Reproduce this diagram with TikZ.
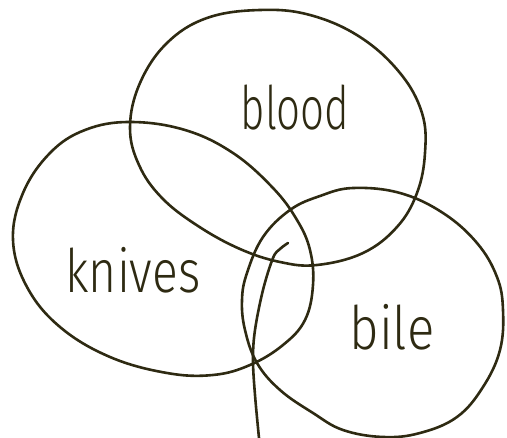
\documentclass[tikz,border=0pt]{standalone}
\usepackage{fontspec}
\setmainfont{Fira Sans Light}
\definecolor{ink}{HTML}{2E2A12}
\begin{document}
\begin{tikzpicture}[x=1pt,y=-1pt,
  stroke/.style={draw=ink,line width=2.6pt,line cap=round,line join=round},
  lbl/.style={text=ink,anchor=base,inner sep=0pt,font=\fontsize{60}{60}\selectfont}]
\useasboundingbox (0,0) rectangle (507,438);
% top set (blood)
\draw[stroke] plot[smooth cycle,tension=0.65] coordinates {
 (130,127) (140,83) (167,43) (207,18) (260,10) (310,15) (360,37) (400,73)
 (422,113) (425,153) (417,193) (397,227) (363,253) (317,265) (280,262)
 (240,249) (198,226) (162,198) (139,165)};
% left set (knives)
\draw[stroke] plot[smooth cycle,tension=0.65] coordinates {
 (130,122) (85,130) (50,153) (23,193) (13,240) (27,287) (60,327) (110,357)
 (167,373) (213,375) (250,365) (283,345) (305,320) (313,285) (310,250)
 (297,220) (273,188) (233,153) (185,130)};
% right set (bile)
\draw[stroke] plot[smooth cycle,tension=0.65] coordinates {
 (353,188) (400,193) (443,213) (477,243) (497,277) (503,310) (500,350)
 (483,387) (457,417) (420,433) (383,437) (343,430) (313,413) (280,390)
 (257,363) (245,330) (242,300) (247,273) (263,237) (290,210) (320,196)};
% stray stroke
\draw[stroke] plot[smooth,tension=0.6] coordinates {
 (288,243) (280,249) (273,258) (263,290) (255,330) (253,360) (255,395) (259,438)};
\node[lbl] (blood) at (295,130) {\scalebox{0.7}[1]{blood}};
\node[lbl] (knives) at (133,293) {\scalebox{0.8}[1]{knives}};
\node[lbl] (bile) at (392,350) {\scalebox{0.85}[1]{bile}};
\end{tikzpicture}
\end{document}
